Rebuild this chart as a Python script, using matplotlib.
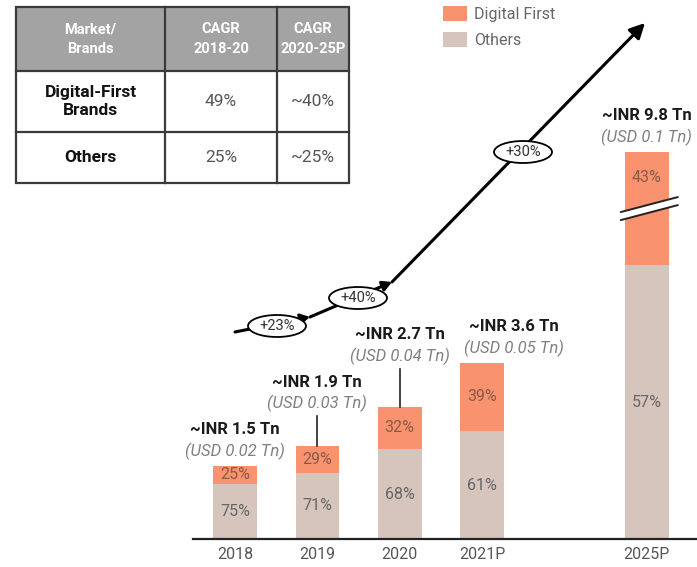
import matplotlib.pyplot as plt
from matplotlib.patches import Rectangle, Ellipse, Polygon, FancyArrowPatch
import numpy as np

plt.rcParams['font.family'] = ['Roboto', 'DejaVu Sans']

# data
years = ['2018', '2019', '2020', '2021P', '2025P']
xpos = [0, 1, 2, 3, 5]
total_inr = [1.5, 1.9, 2.7, 3.6, 9.8]
total_usd = ['0.02', '0.03', '0.04', '0.05', '0.1']
digital_pct = [25, 29, 32, 39, 43]
others_pct = [75, 71, 68, 61, 57]
cagr_labels = ['+23%', '+40%', '+30%']

table_header = ['Market/\nBrands', 'CAGR\n2018-20', 'CAGR\n2020-25P']
table_rows = [['Digital-First\nBrands', '49%', '~40%'],
              ['Others', '25%', '~25%']]

DIG = '#F9926F'
OTH = '#D6C5BC'

# styling bits
cut = [0, 0, 0, 0, 1.9]          # axis break removes this much from 2025P bar
lift = [0, 20, 26, 0, 0]         # extra raise (pt) of the value labels
shift = [0, 0, 0, 23, 0]         # sideways shift (pt) of the value labels
bw = 0.53

others = np.array(total_inr) * np.array(others_pct) / 100
digital = np.array(total_inr) * np.array(digital_pct) / 100
digital_shown = digital - np.array(cut)
tops = others + digital_shown

fig = plt.figure(figsize=(6.97, 5.67), dpi=100)
ax = fig.add_axes([193/697, 28/567, 504/697, 539/567])
ax.set_xlim(-0.51, 5.61)
ax.set_ylim(0, 11.0)

b1 = ax.bar(xpos, others, width=bw, color=OTH, label='Others')
b2 = ax.bar(xpos, digital_shown, bottom=others, width=bw, color=DIG, label='Digital First')

for i, x in enumerate(xpos):
    ax.text(x, others[i] / 2, f'{others_pct[i]}%', ha='center', va='center',
            fontsize=11.5, color='#666666')
    if cut[i]:
        brk = others[i] + digital_shown[i] / 2
        ax.text(x, (brk + tops[i]) / 2 + 0.05, f'{digital_pct[i]}%', ha='center',
                va='center', fontsize=11.5, color='#8a5a48')
        # break marks
        xl, xr = x - 0.316, x + 0.377
        s = 0.306
        g = 0.082
        ax.add_patch(Polygon([[xl, brk - s/2 - g], [xr, brk + s/2 - g],
                              [xr, brk + s/2 + g], [xl, brk - s/2 + g]],
                             closed=True, facecolor='white', edgecolor='none', zorder=3))
        for d in (-g, g):
            ax.plot([xl, xr], [brk - s/2 + d, brk + s/2 + d], color='#222222',
                    lw=1.4, zorder=4, solid_capstyle='round')
    else:
        ax.text(x, others[i] + digital_shown[i] / 2, f'{digital_pct[i]}%', ha='center',
                va='center', fontsize=11.5, color='#8a5a48')

    ax.annotate(f'~INR {total_inr[i]} Tn', (x, tops[i]), xytext=(shift[i], 26 + lift[i]),
                textcoords='offset points', ha='center', va='center',
                fontsize=12, fontweight='bold', color='#1a1a1a')
    ax.annotate(f'(USD {total_usd[i]} Tn)', (x, tops[i]), xytext=(shift[i], 10.5 + lift[i]),
                textcoords='offset points', ha='center', va='center',
                fontsize=12, fontstyle='italic', color='#808080')
    if lift[i]:
        ax.plot([x, x], [tops[i], tops[i] + (lift[i] / 0.72 + 2) / 49], color='#222222', lw=1.2)

ax.set_xticks(xpos, years)
ax.tick_params(axis='x', length=0, pad=6, labelsize=11.5, labelcolor='#555555')
ax.set_yticks([])
for s in ['top', 'right', 'left']:
    ax.spines[s].set_visible(False)
ax.spines['bottom'].set_color('#222222')
ax.spines['bottom'].set_linewidth(1.6)

fig.legend(handles=[b2, b1], loc='upper left', bbox_to_anchor=(443/697, 1 - 6/567),
           bbox_transform=fig.transFigure, frameon=False, fontsize=11.5,
           handlelength=1.5, handleheight=1.05, handletextpad=0.45,
           labelspacing=0.62, borderpad=0, borderaxespad=0, labelcolor='#666666')

# overlay in pixel coordinates for table and growth arrow
ov = fig.add_axes([0, 0, 1, 1], zorder=5)
ov.set_xlim(0, 697)
ov.set_ylim(567, 0)
ov.axis('off')
ov.patch.set_alpha(0)

# table
cols = [16, 165, 277, 349]
rows = [7, 71, 132, 183]
ov.add_patch(Rectangle((cols[0], rows[0]), cols[-1] - cols[0], rows[1] - rows[0],
                       facecolor='#A3A3A3', edgecolor='none'))
ov.add_patch(Rectangle((cols[0], rows[0]), cols[-1] - cols[0], rows[-1] - rows[0],
                       facecolor='none', edgecolor='#3a3a3a', lw=1.6))
for c in cols[1:-1]:
    ov.plot([c, c], [rows[0], rows[-1]], color='#3a3a3a', lw=1.6)
for r in rows[1:-1]:
    ov.plot([cols[0], cols[-1]], [r, r], color='#3a3a3a', lw=1.6)
for j, h in enumerate(table_header):
    ov.text((cols[j] + cols[j+1]) / 2, (rows[0] + rows[1]) / 2, h, ha='center', va='center',
            fontsize=10.5, fontweight='bold', color='white', linespacing=1.5)
for i, row in enumerate(table_rows):
    yc = (rows[i+1] + rows[i+2]) / 2
    for j, v in enumerate(row):
        if j == 0:
            ov.text((cols[j] + cols[j+1]) / 2, yc, v, ha='center', va='center',
                    fontsize=12.5, fontweight='bold', color='#111111', linespacing=1.3)
        else:
            ov.text((cols[j] + cols[j+1]) / 2, yc, v, ha='center', va='center',
                    fontsize=12.5, color='#555555')

# growth arrow
pts = [(235, 332), (310, 317), (392, 282), (645, 23)]
for k in range(3):
    style = '-|>,head_length=0.45,head_width=0.25' if k < 2 else '-|>,head_length=0.75,head_width=0.38'
    ov.add_patch(FancyArrowPatch(pts[k], pts[k+1], arrowstyle=style, color='black',
                                 lw=2.2, shrinkA=0, shrinkB=0, mutation_scale=12))
ell = [(277, 326), (358, 298), (523, 152)]
for (ex, ey), lab in zip(ell, cagr_labels):
    ov.add_patch(Ellipse((ex, ey), 58, 22, facecolor='white', edgecolor='black', lw=1.3, zorder=6))
    ov.text(ex, ey, lab, ha='center', va='center', fontsize=10.5, color='#333333', zorder=7)

fig.savefig('out.png', dpi=100)
